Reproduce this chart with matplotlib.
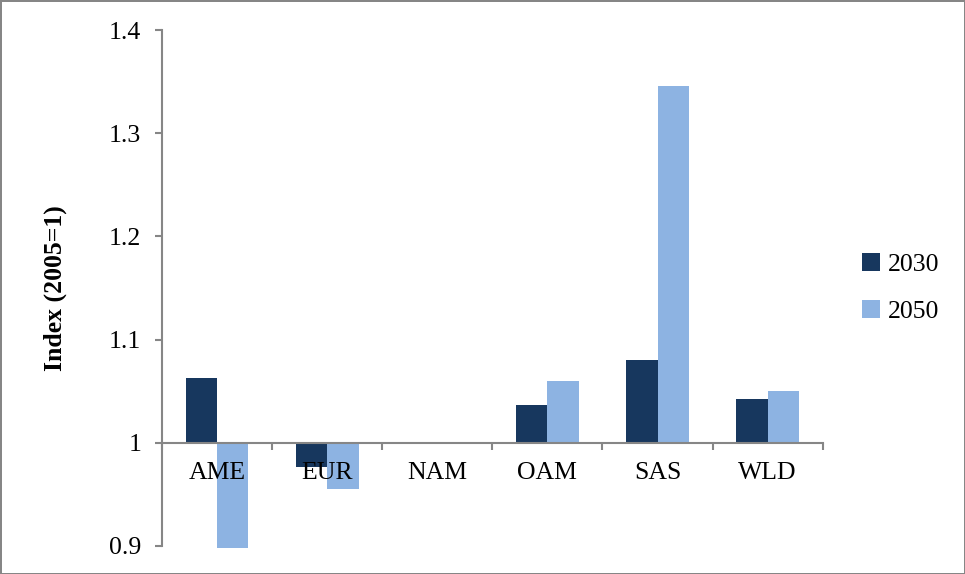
import matplotlib.pyplot as plt
import numpy as np

plt.rcParams['font.family'] = ['Liberation Serif', 'DejaVu Serif']

# 地區與指數資料（2005=1）
regions = ['AME', 'EUR', 'NAM', 'OAM', 'SAS', 'WLD']
idx_2030 = [1.063, 0.977, 1.0, 1.037, 1.080, 1.042]
idx_2050 = [0.898, 0.955, 1.0, 1.060, 1.346, 1.050]

c_2030 = '#17375E'
c_2050 = '#8DB3E2'
grey = '#868686'

fig = plt.figure(figsize=(9.65, 5.74), dpi=100)
fig.patch.set_edgecolor(grey)
fig.patch.set_linewidth(2)
ax = fig.add_axes([0.1679, 0.0488, 0.6846, 0.8989])

x = np.arange(len(regions))
w = 0.285
base = 1.0
ax.bar(x - w / 2, np.array(idx_2030) - base, w, bottom=base, color=c_2030,
       label='2030', clip_on=False)
ax.bar(x + w / 2, np.array(idx_2050) - base, w, bottom=base, color=c_2050,
       label='2050', clip_on=False)

ax.set_xlim(-0.5, len(regions) - 0.5)
ax.set_ylim(0.9, 1.4)
ax.set_yticks([0.9, 1.0, 1.1, 1.2, 1.3, 1.4])
ax.set_yticklabels(['0.9', '1', '1.1', '1.2', '1.3', '1.4'])

# x 軸放在 y=1 的位置，刻度在分類邊界
ax.spines['bottom'].set_position(('data', base))
ax.spines['top'].set_visible(False)
ax.spines['right'].set_visible(False)
for s in ('bottom', 'left'):
    ax.spines[s].set_color(grey)
    ax.spines[s].set_linewidth(1.5)

ax.set_xticks(x)
ax.set_xticklabels(regions)
ax.set_xticks(np.arange(len(regions) + 1) - 0.5, minor=True)
ax.tick_params(axis='x', which='major', length=0, pad=14, labelsize=18.5)
ax.tick_params(axis='x', which='minor', length=5, width=1.5, color=grey, direction='out')
ax.tick_params(axis='y', length=5, width=1.5, color=grey, direction='out', pad=10, labelsize=18.5)

ax.set_ylabel('Index (2005=1)', fontsize=18.5, fontweight='bold')
ax.yaxis.set_label_coords(-0.144, 0.5)

ax.legend(loc='center left', bbox_to_anchor=(1.025, 0.5), frameon=False, fontsize=18.5,
          handlelength=0.7, handleheight=0.7, handletextpad=0.3, labelspacing=0.9)

plt.savefig('out.png', dpi=100)
